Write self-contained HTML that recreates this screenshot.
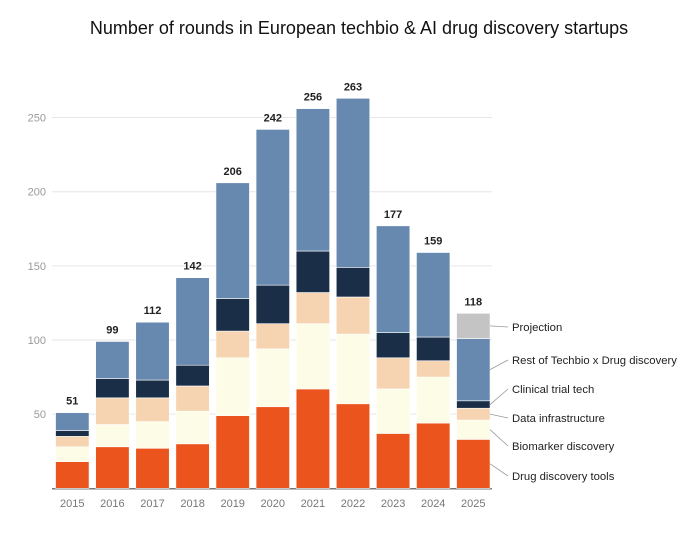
<!DOCTYPE html>
<html><head><meta charset="utf-8">
<style>
body{margin:0;background:#fff;width:688px;height:531px;overflow:hidden;font-family:"Liberation Sans",sans-serif}
</style></head>
<body>
<svg id="chart" width="688" height="531" xmlns="http://www.w3.org/2000/svg">
<text x="359" y="34" text-anchor="middle" font-size="18" fill="#111">Number of rounds in European techbio &amp; AI drug discovery startups</text>
<g id="grid"></g><g id="bars"></g><g id="labels"></g><g id="legend"></g>
</svg>
<script>
const years=["2015","2016","2017","2018","2019","2020","2021","2022","2023","2024","2025"];
const drugTools=[18,28,27,30,49,55,67,57,37,44,33];
const biomarker=[10,15,18,22,39,39,44,47,30,31,13];
const dataInfra=[7,18,16,17,18,17,21,25,21,11,8];
const clinical=[4,13,12,14,22,26,28,20,17,16,5];
const rest=[12,25,39,59,78,105,96,114,72,57,42];
const projection=[0,0,0,0,0,0,0,0,0,0,17];
const totals=[51,99,112,142,206,242,256,263,177,159,118];
const yTicks=[50,100,150,200,250];
const seriesNames=["Drug discovery tools","Biomarker discovery","Data infrastructure","Clinical trial tech","Rest of Techbio x Drug discovery","Projection"];
const series=[drugTools,biomarker,dataInfra,clinical,rest,projection];
const colors=["#ec541e","#fdfce6","#f6d4b1","#1a2e48","#6789b0","#c4c4c4"];
const NS="http://www.w3.org/2000/svg";
const y0=488.3,k=1.483,x0=72.3,dx=40.1,bw=33.5;
const Y=v=>y0-v*k, X=i=>x0+i*dx;
function mk(t,a,p){const e=document.createElementNS(NS,t);for(const q in a)e.setAttribute(q,a[q]);p.appendChild(e);return e;}
const grid=document.getElementById('grid'),bars=document.getElementById('bars'),labels=document.getElementById('labels'),legend=document.getElementById('legend');
yTicks.forEach(t=>{
 const l=mk('line',{x1:52,x2:492,y1:Y(t),y2:Y(t),stroke:'#e6e6e6','stroke-width':1},grid);
 
 
 const tx=mk('text',{x:46,y:Y(t)+4,'text-anchor':'end','font-size':11,fill:'#999'},grid);tx.textContent=t;
 
 
});
years.forEach((yr,i)=>{
 let c=0;
 series.forEach((s,j)=>{
  if(!s[i])return;
  const r=mk('rect',{x:X(i)-bw/2,y:Y(c+s[i]),width:bw,height:s[i]*k,fill:colors[j],stroke:'#fff','stroke-width':0.6},bars);
  
  
  c+=s[i];
 });
 const t=mk('text',{x:X(i),y:Y(totals[i])-8,'text-anchor':'middle','font-size':11,'font-weight':'bold',fill:'#222'},labels);t.textContent=totals[i];
 
 
 const xl=mk('text',{x:X(i),y:507,'text-anchor':'middle','font-size':11,fill:'#777'},labels);xl.textContent=yr;
 
 
});
const ax=mk('line',{x1:52,x2:492,y1:y0+0.5,y2:y0+0.5,stroke:'#777','stroke-width':1.5},grid);


const legY=[480,450,422,393,364,331];
const last=years.length-1;let c=0;
series.forEach((s,j)=>{
 const mid=Y(c+s[last]/2);c+=s[last];
 const ln=mk('line',{x1:X(last)+bw/2,y1:mid,x2:508,y2:legY[j]-4,stroke:'#999','stroke-width':0.8},legend);
 
 
 const t=mk('text',{x:512,y:legY[j],'font-size':11.3,fill:'#222'},legend);t.textContent=seriesNames[j];
 
 
});
</script>
</body></html>
